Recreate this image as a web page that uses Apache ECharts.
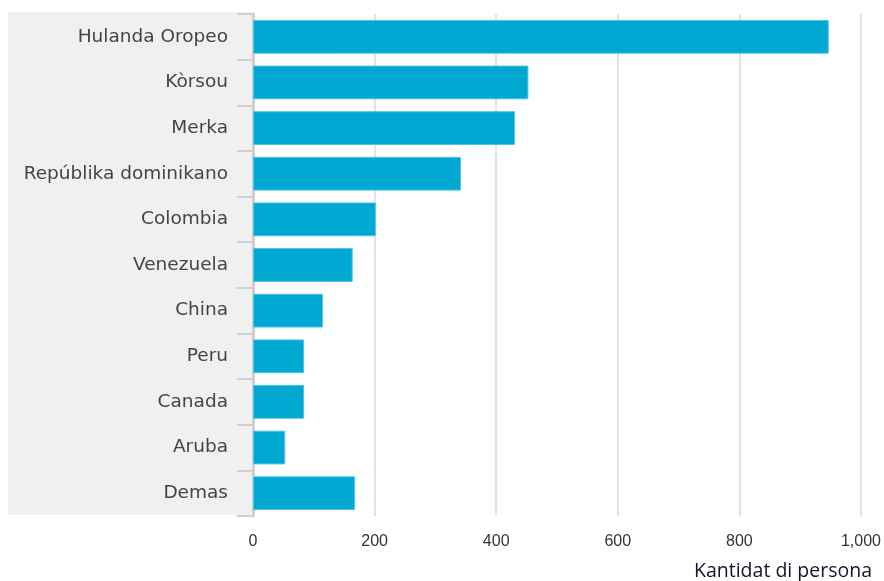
<!DOCTYPE html>
<html>
<head>
<meta charset="utf-8">
<script src="https://cdn.jsdelivr.net/npm/echarts@6/dist/echarts.min.js"></script>
<style>html,body{margin:0;padding:0;background:#fff}#c{width:884px;height:581px}</style>
</head>
<body>
<div id="c"></div>
<script>
const categories = ["Hulanda Oropeo","Kòrsou","Merka","Repúblika dominikano","Colombia","Venezuela","China","Peru","Canada","Aruba","Demas"];
const values = [947,453,431,342,202,164,115,84,84,53,168];
const xTicks = [0,200,400,600,800,1000];
const axisName = "Kantidat di persona";

const chart = echarts.init(document.getElementById('c'), null, {renderer:'canvas'});
const gridLeft = 253, gridTop = 14, gridRight = 19, gridBottom = 65;
chart.setOption({
  animation:false,
  graphic:[{type:'rect', z:-1, left:8, top:12, shape:{width:gridLeft-8, height:503}, style:{fill:'#f0f0f0'}}],
  grid:{left:gridLeft, right:gridRight, top:gridTop, bottom:gridBottom, containLabel:false},
  xAxis:{type:'value', min:xTicks[0], max:xTicks[xTicks.length-1], interval:200,
    axisLine:{show:false}, axisTick:{show:false},
    splitLine:{show:true, lineStyle:{color:'#e3e3e3', width:2}},
    axisLabel:{margin:18, color:'#333', fontFamily:'"Liberation Sans Narrow","Liberation Sans",sans-serif', fontSize:16,
      formatter:v=>v.toLocaleString('en-US')},
    name:axisName, nameLocation:'end', nameGap:11,
    nameTextStyle:{align:'right', verticalAlign:'top', padding:[45,0,0,0], color:'#14142a', fontFamily:'"Open Sans",sans-serif', fontSize:19.5}
  },
  yAxis:{type:'category', data:categories, inverse:true,
    axisLine:{show:true, lineStyle:{color:'#cfcfcf', width:3}},
    axisTick:{show:true, length:16, lineStyle:{color:'#cfcfcf', width:2}},
    axisLabel:{margin:25, color:'#444', fontFamily:'"DejaVu Sans",sans-serif', fontSize:18.5}
  },
  series:[{type:'bar', data:values, barCategoryGap:'26%',
    itemStyle:{color:'#00a8d2', borderColor:'#4cc6e8', borderWidth:1}}]
});
</script>
</body>
</html>
